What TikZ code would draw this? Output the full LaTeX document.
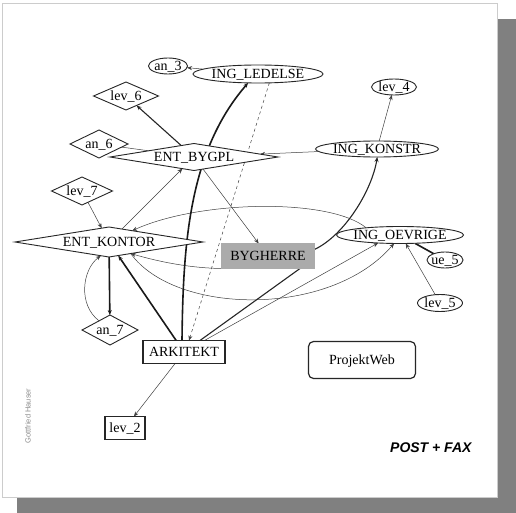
\documentclass[tikz,border=0pt]{standalone}
\usepackage{fontspec}
\setmainfont{Liberation Serif}
\newfontfamily\labelsans{Liberation Sans}
\usetikzlibrary{shapes.geometric,arrows.meta}

\pgfdeclarelayer{page}
\pgfdeclarelayer{edges}
\pgfsetlayers{page,edges,main}

% text of a node: takes no room, so the node size comes from its minimum sizes
\newcommand\nodetext[1]{\makebox[0pt]{\raisebox{-0.33em}[0pt][0pt]{#1}}}

\tikzset{
  base/.style={inner sep=0pt, outer sep=0pt, font=\fontsize{14}{14}\selectfont,
               draw=black!85, line width=0.9pt, fill=white},
  ell/.style={base, ellipse},
  dia/.style={base, diamond, aspect=3},
  box/.style={base, rectangle},
  dbox/.style={base, rectangle, line width=1.3pt},
  thinline/.style={line width=0.5pt, draw=black!75},
  midline/.style={line width=1.1pt, draw=black!85},
  thickline/.style={line width=1.6pt, draw=black!90},
  >={Stealth[length=5pt,width=4pt]}
}

\begin{document}
\begin{tikzpicture}[x=1pt,y=-1pt]
\useasboundingbox (0,0) rectangle (516,513);

% page with its drop shadow
\begin{pgfonlayer}{page}
\fill[black!50] (17,19) rectangle (516,513);
\filldraw[fill=white, draw=black!20, line width=0.8pt] (2,3) rectangle (497,497);
\end{pgfonlayer}

% nodes
\node[ell, minimum width=39pt, minimum height=16pt] (an3) at (168,66) {\nodetext{an\_3}};
\node[ell, minimum width=130pt, minimum height=18pt] (ingled) at (258,74) {\nodetext{ING\_LEDELSE}};
\node[dia, minimum width=65pt, minimum height=28pt] (lev6) at (126,96) {\nodetext{lev\_6}};
\node[ell, minimum width=45pt, minimum height=16pt] (lev4) at (394,87) {\nodetext{lev\_4}};
\node[dia, minimum width=58pt, minimum height=28pt] (an6) at (99,144) {\nodetext{an\_6}};
\node[dia, minimum width=168pt, minimum height=27pt] (entbyg) at (194,157) {\nodetext{ENT\_BYGPL}};
\node[ell, minimum width=123pt, minimum height=16pt] (ingkon) at (377,149) {\nodetext{ING\_KONSTR}};
\node[dia, minimum width=61pt, minimum height=28pt] (lev7) at (82,191) {\nodetext{lev\_7}};
\node[dia, minimum width=188pt, minimum height=30pt] (entkon) at (109,242) {\nodetext{ENT\_KONTOR}};
\node[box, fill=black!33, draw=black!33, minimum width=93pt, minimum height=25pt] (byg) at (268,256) {\nodetext{BYGHERRE}};
\node[ell, minimum width=127pt, minimum height=17pt] (ingoev) at (400,235) {\nodetext{ING\_OEVRIGE}};
\node[ell, minimum width=36pt, minimum height=16pt] (ue5) at (445,260) {\nodetext{ue\_5}};
\node[ell, minimum width=45pt, minimum height=17pt] (lev5) at (440,303) {\nodetext{lev\_5}};
\node[dia, minimum width=56pt, minimum height=30pt] (an7) at (110,330) {\nodetext{an\_7}};
\node[dbox, minimum width=82pt, minimum height=23pt] (arkitekt) at (184,352) {\nodetext{ARKITEKT}};
\node[dbox, minimum width=40pt, minimum height=23pt] (lev2) at (125,428) {\nodetext{lev\_2}};
\node[base, rectangle, rounded corners=5pt, line width=1.2pt, minimum width=107pt, minimum height=37pt] (pweb) at (362,360) {\nodetext{ProjektWeb}};

% connectors, kept behind the nodes
\begin{pgfonlayer}{edges}
\draw[thinline,->] (ingled) -- (an3);
\draw[thinline,->] (ingkon) -- (lev4);
\draw[thinline,->] (lev5) -- (ingoev.304);
\draw[thickline] (ue5) -- (ingoev);
\draw[thinline,->] (ingoev.168) .. controls (330,198) and (200,200) .. (entkon.26);
\draw[thinline,->] (entkon.332) .. controls (175,315) and (330,318) .. (ingoev.235);
\draw[thinline,->] (byg.south west) .. controls (190,268) and (160,262) .. (entkon.332);
\draw[thinline,dashed,->] (ingled.322) -- ([xshift=5pt]arkitekt.north);
\draw[thinline,->] (arkitekt) -- (ingoev.200);
\draw[midline] (arkitekt) -- ([xshift=32pt]byg.south);
\draw[midline,->] (byg.8) .. controls (345,235) and (372,190) .. (ingkon.272);
\draw[thinline,->] (ingkon) -- (entbyg);
\draw[midline,->] (entbyg) -- (lev6);
\draw[thinline] (an6) -- (entbyg);
\draw[thinline,->] (lev7) -- (entkon);
\draw[thinline,->] (entkon) -- (entbyg);
\draw[thinline,->] (entbyg) -- (byg);
\draw[thickline,->] (entkon) -- (an7);
\draw[thinline,->] (an7.140) .. controls (78,305) and (82,270) .. (entkon.239);
\draw[thickline,->] (arkitekt) -- (entkon);
\draw[thinline,->] (arkitekt) -- (lev2);
\draw[thickline,->] ([xshift=-2pt]arkitekt.north) .. controls (183,240) and (190,150) .. (ingled.222);
\end{pgfonlayer}

% captions
\node[font=\labelsans\bfseries\itshape\fontsize{14}{14}\selectfont, anchor=east] (caption) at (475,448) {POST + FAX};
\node[font=\labelsans\fontsize{7.5}{7.5}\selectfont, text=black!45, rotate=90] (author) at (28,416) {Gottfried Hauser};
\end{tikzpicture}
\end{document}
